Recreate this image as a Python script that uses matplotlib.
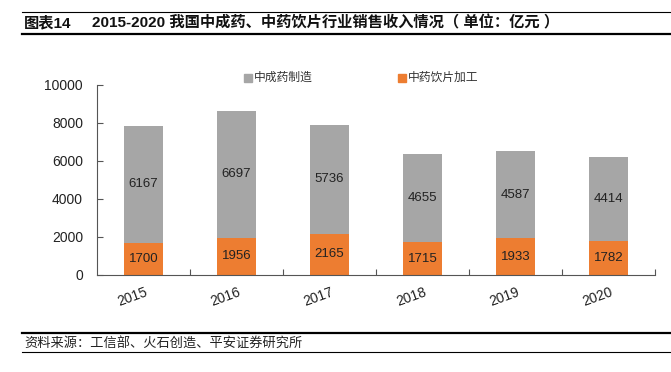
import matplotlib
matplotlib.use("Agg")
import matplotlib.pyplot as plt
from matplotlib.lines import Line2D
from matplotlib.patches import Rectangle

plt.rcParams['font.family'] = ['Liberation Sans', 'Noto Sans CJK SC', 'DejaVu Sans']

years = ['2015', '2016', '2017', '2018', '2019', '2020']
yinpian = [1700, 1956, 2165, 1715, 1933, 1782]
chengyao = [6167, 6697, 5736, 4655, 4587, 4414]
series_names = ['中成药制造', '中药饮片加工']
title_label = '图表14'
title = '2015-2020 我国中成药、中药饮片行业销售收入情况（ 单位：亿元 ）'
source = '资料来源：工信部、火石创造、平安证券研究所'
gray = '#A6A6A6'
orange = '#ED7D31'

W, H = 671, 372
fig = plt.figure(figsize=(W/100, H/100), dpi=100)
ax = fig.add_axes([97/W, 1-275/H, (655-97)/W, (275-85)/H])

x = list(range(len(years)))
ax.bar(x, yinpian, width=0.43, color=orange, zorder=2)
ax.bar(x, chengyao, bottom=yinpian, width=0.43, color=gray, zorder=2)
for i in x:
    ax.text(i, yinpian[i]/2, str(yinpian[i]), ha='center', va='center', fontsize=9.5, color='#222222')
    ax.text(i, yinpian[i] + chengyao[i]/2, str(chengyao[i]), ha='center', va='center', fontsize=9.5, color='#222222')

ax.set_xlim(-0.5, len(years)-0.5)
ax.set_ylim(0, 10000)
ax.set_yticks(range(0, 10001, 2000))
ax.set_yticklabels([str(v) for v in range(0, 10001, 2000)], fontsize=10, color='#222222')
ax.set_xticks([i + 0.5 for i in x])
ax.set_xticklabels([])
ax.tick_params(axis='x', direction='in', length=4, color='#555555')
ax.tick_params(axis='y', direction='in', length=4, color='#555555', pad=10)
for i, yr in enumerate(years):
    ax.text(i - 0.12, -550, yr, rotation=20, ha='center', va='top', fontsize=10, color='#222222')
for s in ['top', 'right']:
    ax.spines[s].set_visible(False)
ax.spines['left'].set_color('#555555')
ax.spines['bottom'].set_color('#555555')

# legend
for xp, c, name in [(248, gray, series_names[0]), (402, orange, series_names[1])]:
    fig.patches.append(Rectangle(((xp-4)/W, 1-(78+4)/H), 8/W, 8/H, transform=fig.transFigure, color=c))
    fig.text((xp+6)/W, 1-78/H, name, ha='left', va='center', fontsize=8.5, color='#333333')

# title and lines
fig.text(24/W, 1-23/H, title_label, ha='left', va='center', fontsize=11, fontweight='bold', color='#111111')
fig.text(92/W, 1-23/H, title, ha='left', va='center', fontsize=11, fontweight='bold', color='#111111')
fig.lines.append(Line2D([22/W, 1], [1-12/H, 1-12/H], transform=fig.transFigure, color='black', lw=0.8))
fig.lines.append(Line2D([22/W, 1], [1-34/H, 1-34/H], transform=fig.transFigure, color='black', lw=1.6))
fig.lines.append(Line2D([22/W, 1], [1-333/H, 1-333/H], transform=fig.transFigure, color='black', lw=1.6))
fig.lines.append(Line2D([22/W, 1], [1-352/H, 1-352/H], transform=fig.transFigure, color='black', lw=0.8))
fig.text(24/W, 1-343/H, source, ha='left', va='center', fontsize=9.5, color='#222222')

fig.savefig('out.png', dpi=100)
